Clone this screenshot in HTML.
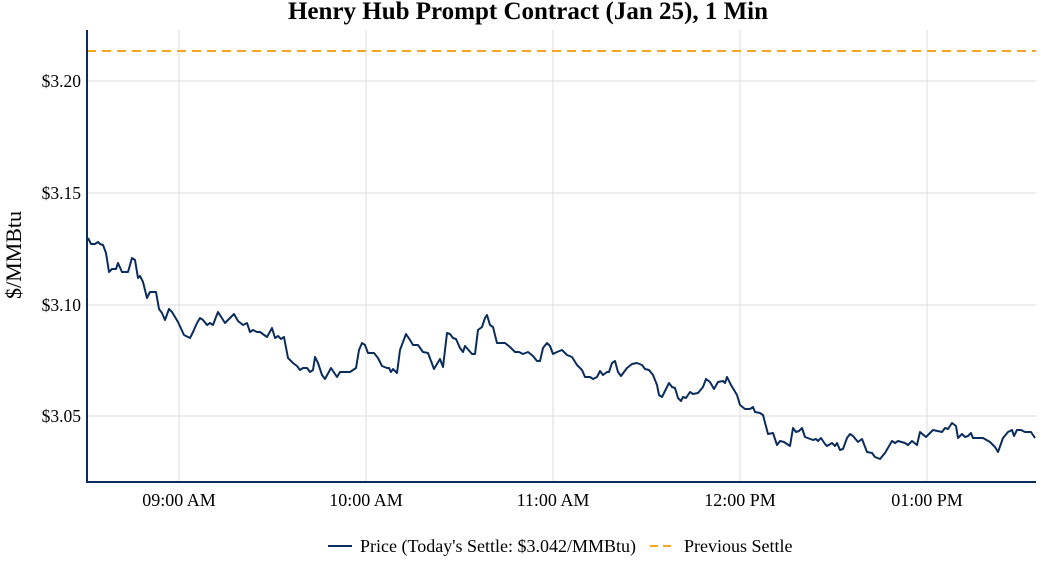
<!DOCTYPE html>
<html><head><meta charset="utf-8"><style>
html,body{margin:0;padding:0;background:#fff}
svg{display:block;font-family:"Liberation Serif",serif}
</style></head><body>
<svg width="1056" height="576" viewBox="0 0 1056 576" xmlns="http://www.w3.org/2000/svg">
<rect width="1056" height="576" fill="#fff"/>
<text x="528" y="19" text-anchor="middle" font-size="25" font-weight="bold" fill="#000">Henry Hub Prompt Contract (Jan 25), 1 Min</text>
<g stroke="#dcdcdc" stroke-width="1">
<line x1="87" x2="1036" y1="81" y2="81"/><line x1="87" x2="1036" y1="193" y2="193"/>
<line x1="87" x2="1036" y1="305" y2="305"/><line x1="87" x2="1036" y1="416" y2="416"/>
<line x1="179" x2="179" y1="30" y2="482"/><line x1="366" x2="366" y1="30" y2="482"/>
<line x1="553" x2="553" y1="30" y2="482"/><line x1="740" x2="740" y1="30" y2="482"/>
<line x1="927" x2="927" y1="30" y2="482"/>
</g>
<line x1="87" x2="1036" y1="51" y2="51" stroke="#f5a623" stroke-width="2" stroke-dasharray="9,6"/>
<polyline fill="none" stroke="#0b2d5b" stroke-width="2" stroke-linejoin="round" points="88,238 91,244 95,244 98,242 100,244 103,245 106,253 109,272 112,269 116,269 118,263 122,272 128,272 132,258 135,260 138,278 140,276 143,282 147,298 150,292 156,292 159,309 162,313 165,320 169,309 172,312 178,322 184,335 190,338 193,332 197,323 200,318 203,320 207,325 210,323 213,325 216,317 218,312 225,323 234,314 238,321 243,325 247,323 250,332 253,330 257,332 260,332 267,337 272,328 275,338 278,336 281,339 284,337 288,358 293,363 297,366 300,370 303,368 307,368 310,372 313,370 315,357 318,363 322,375 325,379 331,368 337,377 340,372 350,372 356,368 359,350 362,343 365,345 368,353 374,353 378,358 382,366 387,368 389,368 391,372 393,369 397,373 400,350 406,334 410,340 413,345 418,345 423,352 428,353 434,369 440,359 443,367 447,333 450,334 453,338 456,339 460,348 463,352 465,346 472,354 475,354 478,330 482,327 485,318 487,315 490,325 493,327 497,343 505,343 510,347 515,352 519,352 523,354 528,352 533,356 537,361 540,361 543,348 547,343 550,346 553,354 557,352 562,350 567,355 572,357 577,365 582,370 585,377 590,377 593,379 597,377 600,371 603,375 607,372 609,372 612,363 615,361 618,372 621,376 627,368 632,364 637,363 642,365 645,369 649,370 653,375 657,385 659,395 662,397 667,387 669,383 672,387 675,388 678,398 681,401 683,397 686,398 690,392 693,394 698,393 703,387 706,379 710,382 714,389 718,382 723,381 725,383 727,377 731,385 737,395 740,405 745,409 750,409 753,407 755,412 760,413 763,415 768,434 773,433 777,445 780,441 784,442 790,446 793,428 796,432 799,431 802,428 805,437 813,440 816,439 818,441 821,438 825,444 827,446 832,443 835,446 837,443 840,450 843,449 847,438 850,434 853,436 858,442 862,439 867,452 872,453 875,457 880,459 885,453 892,441 895,443 898,441 905,443 908,445 912,441 917,445 920,432 926,437 930,433 933,430 942,432 945,428 948,429 952,423 956,426 958,438 962,434 965,437 968,436 971,433 973,438 983,438 990,442 995,447 998,452 1003,438 1008,432 1012,430 1014,436 1017,430 1021,430 1025,432 1031,432 1035,438"/>
<line x1="87" x2="87" y1="30" y2="483" stroke="#0b2d5b" stroke-width="2"/>
<line x1="86" x2="1036" y1="482" y2="482" stroke="#0b2d5b" stroke-width="2"/>
<g font-size="17.5" fill="#000" text-anchor="end">
<text x="81" y="87">$3.20</text><text x="81" y="199">$3.15</text>
<text x="81" y="311">$3.10</text><text x="81" y="422">$3.05</text>
</g>
<g font-size="18" fill="#000" text-anchor="middle">
<text x="179" y="506">09:00 AM</text><text x="366" y="506">10:00 AM</text>
<text x="553" y="506">11:00 AM</text><text x="740" y="506">12:00 PM</text>
<text x="927" y="506">01:00 PM</text>
</g>
<text transform="translate(21,255) rotate(-90)" font-size="22" text-anchor="middle" fill="#000">$/MMBtu</text>
<line x1="328" x2="352" y1="546" y2="546" stroke="#0b2d5b" stroke-width="2"/>
<text x="360" y="552" font-size="18" fill="#000">Price (Today's Settle: $3.042/MMBtu)</text>
<line x1="650" x2="676" y1="546" y2="546" stroke="#f5a623" stroke-width="2" stroke-dasharray="8,5"/>
<text x="684" y="552" font-size="18" fill="#000">Previous Settle</text>
</svg>
</body></html>
